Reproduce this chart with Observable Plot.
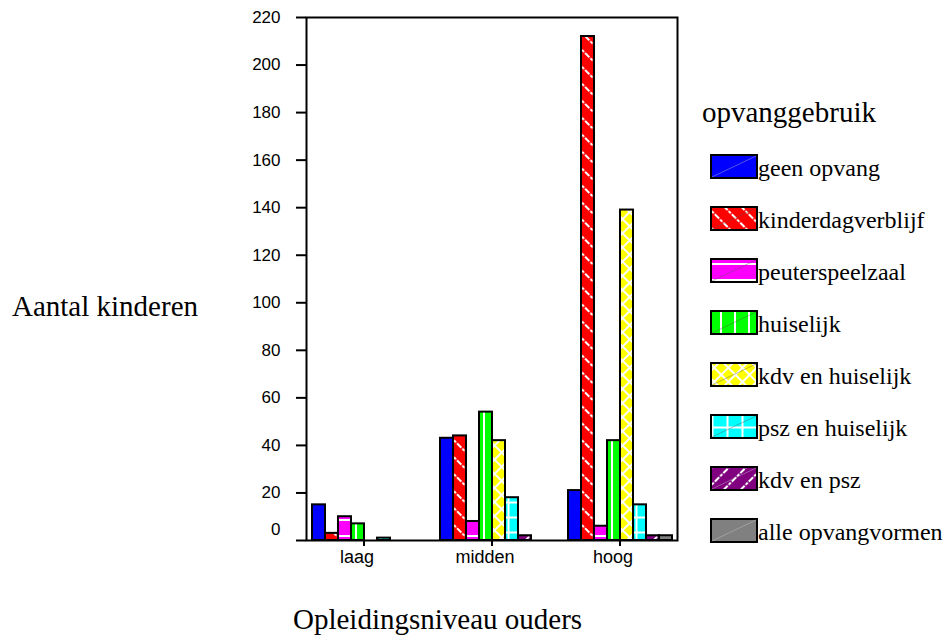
<!DOCTYPE html>
<html>
<head>
<meta charset="utf-8">
<script src="https://cdn.jsdelivr.net/npm/d3@7"></script>
<script src="https://cdn.jsdelivr.net/npm/@observablehq/plot@0.6"></script>
<style>
  html, body { margin: 0; padding: 0; background: #fff; }
  #chart { width: 943px; height: 637px; }
</style>
</head>
<body>
<div id="chart"></div>
<script>
// ---- data ----
const categories = ["laag", "midden", "hoog"];
const series = ["geen opvang", "kinderdagverblijf", "peuterspeelzaal", "huiselijk",
                "kdv en huiselijk", "psz en huiselijk", "kdv en psz", "alle opvangvormen"];
const laagValues   = [15, 3, 10, 7, 0, 1, 0, 0];
const middenValues = [43, 44, 8, 54, 42, 18, 2, 0];
const hoogValues   = [21, 212, 6, 42, 139, 15, 2, 2];
const yTicks = [0, 20, 40, 60, 80, 100, 120, 140, 160, 180, 200, 220];
const seriesColors = ["#0000ff", "#ff0000", "#ff00ff", "#00ff00", "#ffff00", "#00ffff", "#800080", "#808080"];
const seriesPatterns = ["none", "diagBack", "hline", "vline", "cross", "grid", "diagFwd", "none"];
const yLabel = "Aantal kinderen";
const xLabel = "Opleidingsniveau ouders";
const legendTitle = "opvanggebruik";

const valuesByCategory = [laagValues, middenValues, hoogValues];
const rows = categories.flatMap((c, i) =>
  series.map((s, j) => ({category: c, series: s, value: valuesByCategory[i][j]})));
const patternIds = series.map((s, i) => "pat" + i);
const patternUrls = patternIds.map(id => `url(#${id})`);

const serif = "'Liberation Serif', 'Times New Roman', Times, serif";
const sans = "'Liberation Sans', Arial, Helvetica, sans-serif";

const plot = Plot.plot({
  width: 943,
  height: 637,
  marginLeft: 293,
  marginRight: 252,
  marginTop: 17,
  marginBottom: 97,
  style: {fontFamily: sans, background: "white", color: "black"},
  fx: {domain: categories, paddingInner: 0.1, paddingOuter: 0.1},
  x: {domain: series, axis: null, paddingInner: 0, paddingOuter: 0.4},
  y: {domain: [0, 220]},
  color: {domain: series, range: patternUrls},
  marks: [
    Plot.barY(rows, {fx: "category", x: "series", y: "value", fill: "series",
                     stroke: "black", strokeWidth: 2}),
    Plot.frame({facet: "super", stroke: "black", strokeWidth: 2}),
    Plot.axisY(yTicks, {tickSize: 10, tickPadding: 16, fontSize: 17, strokeWidth: 2,
                        tickFormat: d => d === 0 ? "" : String(d), label: null}),
    Plot.axisY([0], {tickSize: 0, tickPadding: 26, fontSize: 17, dy: -11,
                     tickFormat: d => String(d), label: null}),
    Plot.axisFx({anchor: "bottom", tickSize: 6, strokeWidth: 2, tickFormat: () => "", label: null}),
    Plot.axisFx({anchor: "bottom", tickSize: 0, tickPadding: 10, fontSize: 18, dx: -7, label: null})
  ]
});

document.getElementById("chart").appendChild(plot);

// ---- patterns ----
const svg = d3.select(plot);
const defs = svg.insert("defs", ":first-child");
function addPattern(id, color, kind) {
  const sizes = {none: 8, diagBack: 12, hline: 16, vline: 14, cross: 10, grid: 15, diagFwd: 12};
  const size = sizes[kind];
  const p = defs.append("pattern").attr("id", id)
    .attr("patternUnits", "userSpaceOnUse").attr("width", size).attr("height", size);
  p.append("rect").attr("width", size).attr("height", size).attr("fill", color);
  const line = (x1, y1, x2, y2, dash) => {
    const l = p.append("line").attr("x1", x1).attr("y1", y1).attr("x2", x2).attr("y2", y2)
      .attr("stroke", "#fff").attr("stroke-width", 2);
    if (dash) l.attr("stroke-dasharray", dash);
  };
  if (kind === "diagBack") { p.attr("patternTransform", "rotate(-45)"); line(size/2, 0, size/2, size, "3 1.5"); }
  if (kind === "diagFwd")  { p.attr("patternTransform", "rotate(45)");  line(size/2, 0, size/2, size, "3 1.5"); }
  if (kind === "hline") line(0, size/2, size, size/2);
  if (kind === "vline") line(size/2, 0, size/2, size);
  if (kind === "cross") { p.attr("patternTransform", "rotate(45)"); line(size/2, 0, size/2, size); line(0, size/2, size, size/2); }
  if (kind === "grid") { line(size/2, 0, size/2, size); line(0, size/2, size, size/2); }
}
series.forEach((s, i) => addPattern(patternIds[i], seriesColors[i], seriesPatterns[i]));

const addText = (sel, x, y, size, txt) =>
  sel.append("text").attr("x", x).attr("y", y).attr("text-anchor", "start")
    .style("font-family", serif).style("font-size", size + "px").attr("fill", "black").text(txt);

// ---- axis titles ----
addText(svg, 12, 316, 29, yLabel);
addText(svg, 293, 629, 29, xLabel);

// ---- legend ----
const lg = svg.append("g");
addText(lg, 702, 122, 29, legendTitle);
series.forEach((s, i) => {
  const y0 = 155 + i * 52;
  lg.append("rect").attr("x", 711).attr("y", y0).attr("width", 46).attr("height", 23)
    .attr("fill", patternUrls[i]).attr("stroke", "black").attr("stroke-width", 2);
  lg.append("line").attr("x1", 712).attr("y1", y0 + 22).attr("x2", 756).attr("y2", y0 + 1)
    .attr("stroke", i === 6 || i === 0 || i === 7 ? "#ccc" : "#555").attr("stroke-width", 0.6).attr("opacity", 0.7);
  addText(lg, 758, y0 + 21, 24, s);
});
</script>
</body>
</html>
